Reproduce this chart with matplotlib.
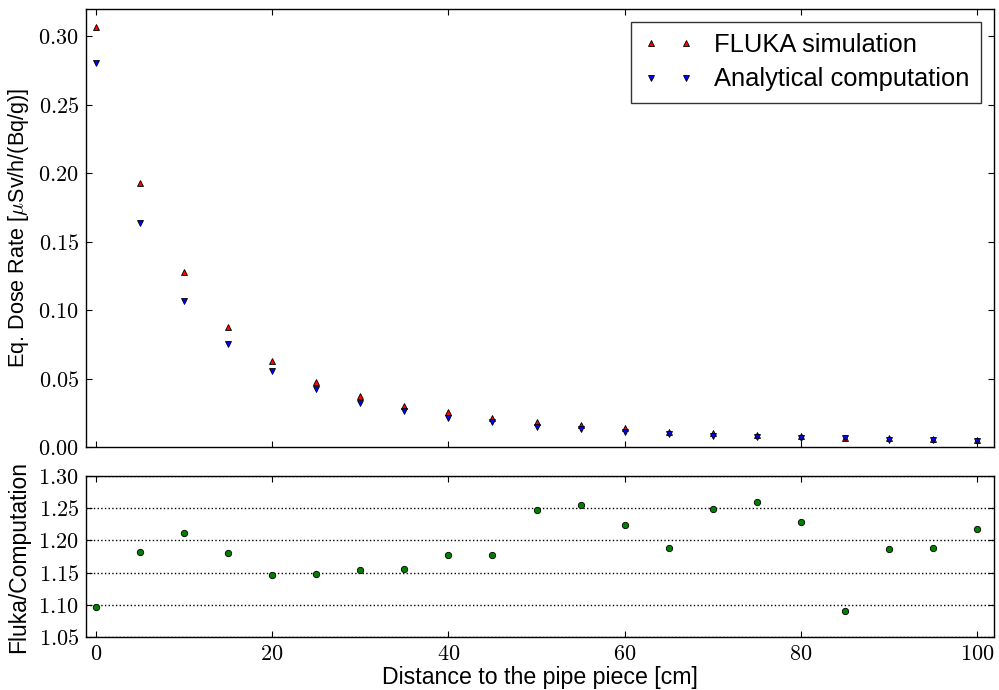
import matplotlib
matplotlib.use("Agg")
import matplotlib.pyplot as plt
from matplotlib.ticker import FormatStrFormatter, MultipleLocator

# distance from the pipe piece [cm]
distance = [0, 5, 10, 15, 20, 25, 30, 35, 40, 45, 50,
            55, 60, 65, 70, 75, 80, 85, 90, 95, 100]

# equivalent dose rate [uSv/h/(Bq/g)]
fluka = [0.3068, 0.1932, 0.1282, 0.0874, 0.0626, 0.0477, 0.0374, 0.0301,
         0.0253, 0.0212, 0.0180, 0.0161, 0.0139, 0.0110, 0.0099, 0.0089,
         0.0079, 0.0068, 0.0063, 0.0058, 0.0053]
analytical = [0.2807, 0.1640, 0.1068, 0.0750, 0.0555, 0.0426, 0.0324, 0.0261,
              0.0215, 0.0180, 0.0144, 0.0128, 0.0113, 0.0093, 0.0079, 0.0071,
              0.0064, 0.0062, 0.0053, 0.0049, 0.0044]

# fluka / analytical
ratio = [1.096, 1.182, 1.211, 1.180, 1.147, 1.148, 1.154, 1.156, 1.178,
         1.177, 1.248, 1.255, 1.224, 1.188, 1.249, 1.260, 1.229, 1.090,
         1.187, 1.189, 1.217]

plt.rcParams['font.family'] = ['Liberation Sans', 'DejaVu Sans']
plt.rcParams['mathtext.fontset'] = 'cm'
plt.rcParams['xtick.direction'] = 'in'
plt.rcParams['ytick.direction'] = 'in'
plt.rcParams['xtick.top'] = True
plt.rcParams['ytick.right'] = True
plt.rcParams['xtick.major.size'] = 4
plt.rcParams['ytick.major.size'] = 4
plt.rcParams['xtick.major.pad'] = 5
plt.rcParams['ytick.major.pad'] = 5
plt.rcParams['axes.linewidth'] = 1.0

fig = plt.figure(figsize=(9.99, 6.90), dpi=100)
top = fig.add_axes([0.0861, 0.3522, 0.909, 0.6348])
bot = fig.add_axes([0.0861, 0.0768, 0.909, 0.2333], sharex=top)

top.plot(distance, fluka, '^', color='r', mec='k', mew=0.6, ms=4.8,
         label='FLUKA simulation')
top.plot(distance, analytical, 'v', color='b', mec='k', mew=0.6, ms=4.8,
         label='Analytical computation')
top.set_ylim(0, 0.32)
top.set_xlim(-1.1, 101.9)
top.yaxis.set_major_locator(MultipleLocator(0.05))
top.yaxis.set_major_formatter(FormatStrFormatter('$%.2f$'))
top.set_ylabel(r'Eq. Dose Rate [$\mu$Sv/h/(Bq/g)]', fontsize=15.6,
               labelpad=5)
top.tick_params(labelbottom=False, labelsize=16)
leg = top.legend(loc='upper right', numpoints=2, markerscale=0.8,
                 fancybox=False, fontsize=18.4, borderaxespad=0.5,
                 handletextpad=0.8, borderpad=0.45, labelspacing=0.4)
leg.get_frame().set_edgecolor('k')
leg.get_frame().set_linewidth(1.0)

bot.plot(distance, ratio, 'o', color=(0, 0.5, 0), mec='k', mew=0.6, ms=4.6)
bot.set_ylim(1.05, 1.30)
bot.yaxis.set_major_locator(MultipleLocator(0.05))
bot.yaxis.set_major_formatter(FormatStrFormatter('$%.2f$'))
bot.xaxis.set_major_locator(MultipleLocator(20))
bot.xaxis.set_major_formatter(FormatStrFormatter('$%d$'))
bot.yaxis.grid(True, linestyle=':', color='k', linewidth=1.0)
bot.set_ylabel('Fluka/Computation', fontsize=16.5, labelpad=6)
bot.set_xlabel('Distance to the pipe piece [cm]', fontsize=16.7, labelpad=1)
bot.tick_params(labelsize=16)

fig.savefig('out.png', dpi=100)
